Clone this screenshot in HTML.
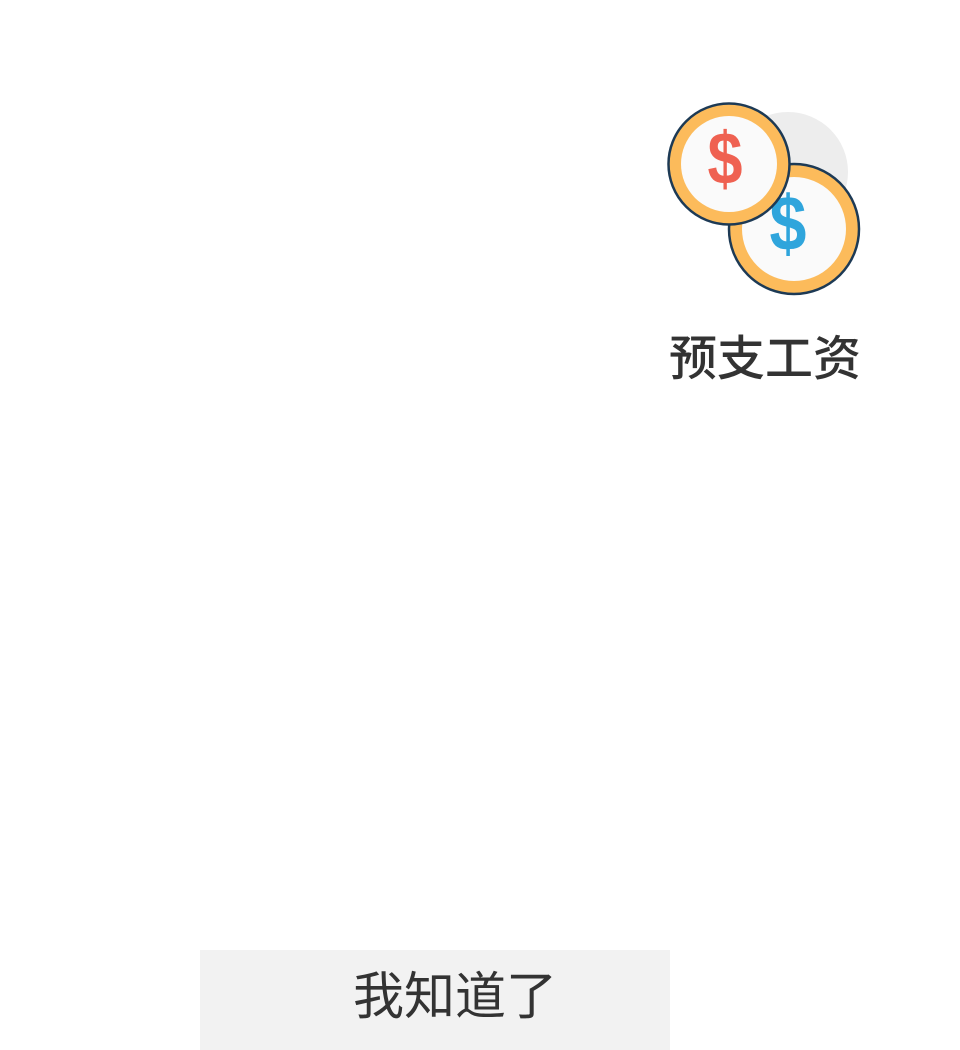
<!DOCTYPE html>
<html><head><meta charset="utf-8"><style>
html,body{margin:0;padding:0;background:#fff;width:960px;height:1050px;overflow:hidden;position:relative;font-family:"Liberation Sans","Noto Sans CJK SC",sans-serif}
.label{position:absolute;left:640px;width:250px;top:328px;text-align:center;font-size:48px;color:#333;line-height:64px;font-weight:500}
.btn{position:absolute;left:200px;top:950px;width:470px;height:100px;background:#f2f2f2;box-sizing:border-box;padding-left:40px;text-align:center;line-height:94px;font-size:51px;color:#333}
</style></head><body>
<svg style="position:absolute;left:0;top:0" width="960" height="400">
<circle cx="788" cy="172" r="60" fill="#ededed"/>
<g>
<circle cx="794" cy="229" r="65" fill="#fcbb5b" stroke="#1d3a55" stroke-width="2.5"/>
<circle cx="794" cy="229" r="52" fill="#fafafa"/>
<text x="788" y="250" text-anchor="middle" font-size="78" font-family="Liberation Sans Narrow, Liberation Sans, sans-serif" fill="#2fa5dc" font-weight="bold" transform="translate(788 0) scale(0.85 1) translate(-788 0)">$</text>
</g>
<g>
<circle cx="729" cy="164" r="60.5" fill="#fcbb5b" stroke="#1d3a55" stroke-width="2.5"/>
<circle cx="729" cy="164" r="48" fill="#fafafa"/>
<text x="725" y="184" text-anchor="middle" font-size="74" font-family="Liberation Sans Narrow, Liberation Sans, sans-serif" fill="#ef6151" font-weight="bold" transform="translate(725 0) scale(0.85 1) translate(-725 0)">$</text>
</g>
</svg>
<div class="label">预支工资</div>
<div class="btn">我知道了</div>
</body></html>
